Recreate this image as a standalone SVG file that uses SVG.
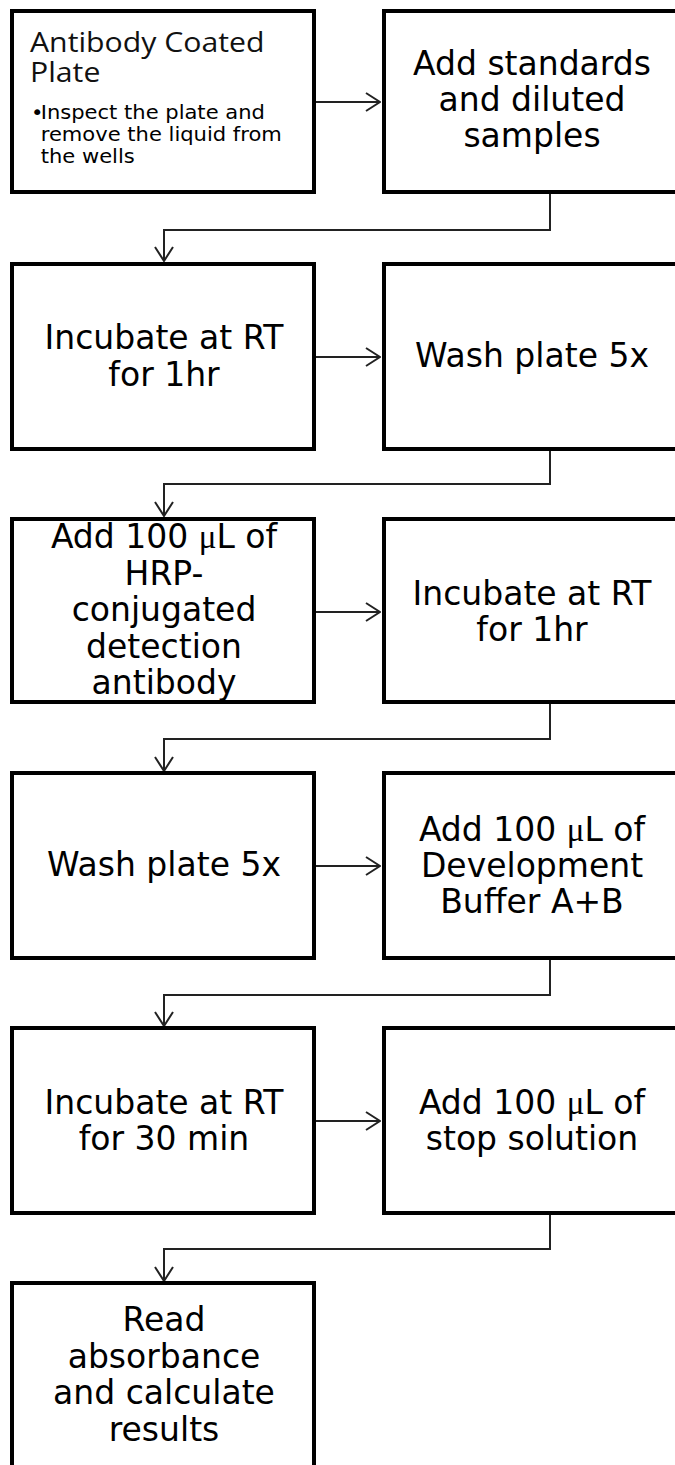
<svg xmlns="http://www.w3.org/2000/svg" width="675" height="1465" viewBox="0 0 675 1465">
<defs>
<style>
.box{fill:#fff;stroke:#000;stroke-width:4}
.lbl{font-family:"DejaVu Sans",Verdana,sans-serif;font-size:33px;text-anchor:middle;fill:#000}
.mu{font-family:"Liberation Serif",serif}
.title{font-family:"Open Sans","Noto Sans",sans-serif;font-size:27px;fill:#111}
.bul{font-family:"DejaVu Sans",Verdana,sans-serif;font-size:19.5px;fill:#000}
.conn{fill:none;stroke:#222;stroke-width:2}
</style>
<marker id="ah" viewBox="0 0 16 20" refX="15" refY="10" markerWidth="16" markerHeight="20" markerUnits="userSpaceOnUse" orient="auto">
<path d="M1,1 L15,10 L1,19" fill="none" stroke="#222" stroke-width="2"/>
</marker>
</defs>
<rect width="675" height="1465" fill="#fff"/>

<g id="connectors">
<line class="conn" x1="316" y1="102" x2="380" y2="102" marker-end="url(#ah)"/>
<path class="conn" d="M550,193 V230 H164 V261" marker-end="url(#ah)"/>
<line class="conn" x1="316" y1="357" x2="380" y2="357" marker-end="url(#ah)"/>
<path class="conn" d="M550,451 V484 H164 V516" marker-end="url(#ah)"/>
<line class="conn" x1="316" y1="612" x2="380" y2="612" marker-end="url(#ah)"/>
<path class="conn" d="M550,704 V739 H164 V771" marker-end="url(#ah)"/>
<line class="conn" x1="316" y1="866" x2="380" y2="866" marker-end="url(#ah)"/>
<path class="conn" d="M550,960 V995 H164 V1026" marker-end="url(#ah)"/>
<line class="conn" x1="316" y1="1121" x2="380" y2="1121" marker-end="url(#ah)"/>
<path class="conn" d="M550,1215 V1249 H164 V1281" marker-end="url(#ah)"/>
</g>

<g id="n1">
<rect class="box" x="12" y="11" width="302" height="181"/>
<g transform="translate(30 0) scale(1.12 1)">
<text class="title" x="0" y="52">Antibody Coated</text>
<text class="title" x="0" y="82">Plate</text>
</g>
<g transform="translate(31 0) scale(1.08 1)">
<text class="bul" x="0" y="119">•</text>
<text class="bul" x="9" y="119">Inspect the plate and</text>
<text class="bul" x="9" y="141">remove the liquid from</text>
<text class="bul" x="9" y="163">the wells</text>
</g>
</g>

<g id="n2">
<rect class="box" x="384" y="11" width="320" height="181"/>
<text class="lbl" x="532" y="75">Add standards</text>
<text class="lbl" x="532" y="111">and diluted</text>
<text class="lbl" x="532" y="147">samples</text>
</g>

<g id="n3">
<rect class="box" x="12" y="264" width="302" height="185"/>
<text class="lbl" x="164" y="349">Incubate at RT</text>
<text class="lbl" x="164" y="386">for 1hr</text>
</g>

<g id="n4">
<rect class="box" x="384" y="264" width="320" height="185"/>
<text class="lbl" x="532" y="367">Wash plate 5x</text>
</g>

<g id="n5">
<rect class="box" x="12" y="519" width="302" height="183"/>
<text class="lbl" x="164" y="548">Add 100 <tspan class="mu">μ</tspan>L of</text>
<text class="lbl" x="164" y="585">HRP-</text>
<text class="lbl" x="164" y="621">conjugated</text>
<text class="lbl" x="164" y="658">detection</text>
<text class="lbl" x="164" y="694">antibody</text>
</g>

<g id="n6">
<rect class="box" x="384" y="519" width="320" height="183"/>
<text class="lbl" x="532" y="605">Incubate at RT</text>
<text class="lbl" x="532" y="641">for 1hr</text>
</g>

<g id="n7">
<rect class="box" x="12" y="773" width="302" height="185"/>
<text class="lbl" x="164" y="876">Wash plate 5x</text>
</g>

<g id="n8">
<rect class="box" x="384" y="773" width="320" height="185"/>
<text class="lbl" x="532" y="841">Add 100 <tspan class="mu">μ</tspan>L of</text>
<text class="lbl" x="532" y="877">Development</text>
<text class="lbl" x="532" y="913">Buffer A+B</text>
</g>

<g id="n9">
<rect class="box" x="12" y="1028" width="302" height="185"/>
<text class="lbl" x="164" y="1114">Incubate at RT</text>
<text class="lbl" x="164" y="1150">for 30 min</text>
</g>

<g id="n10">
<rect class="box" x="384" y="1028" width="320" height="185"/>
<text class="lbl" x="532" y="1114">Add 100 <tspan class="mu">μ</tspan>L of</text>
<text class="lbl" x="532" y="1150">stop solution</text>
</g>

<g id="n11">
<rect class="box" x="12" y="1283" width="302" height="200"/>
<text class="lbl" x="164" y="1331">Read</text>
<text class="lbl" x="164" y="1368">absorbance</text>
<text class="lbl" x="164" y="1404">and calculate</text>
<text class="lbl" x="164" y="1441">results</text>
</g>
</svg>
